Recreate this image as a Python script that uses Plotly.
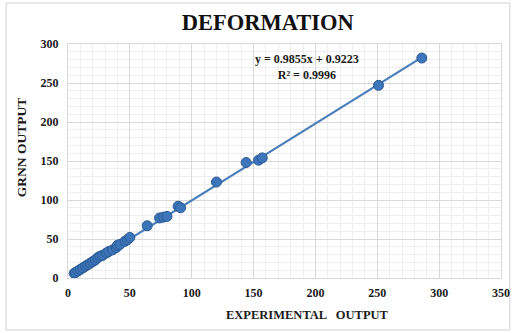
import plotly.graph_objects as go

exp_output = [5, 6, 8, 10, 12, 14, 16, 18, 20, 22, 24, 26, 28, 31, 33, 36, 39, 40, 42, 46, 48, 50,
              64, 74, 77, 80, 89, 91, 120, 144, 154, 157, 251, 286]
grnn_output = [6, 7, 9, 11, 13, 15, 17, 19, 21, 23, 26, 28, 29, 32, 34, 36, 39, 42, 43, 47, 49, 52,
               67, 77, 78, 79, 92, 90, 123, 148, 151, 154, 247, 282]
slope = 0.9855
intercept = 0.9223
eq_text = "<b>y = 0.9855x + 0.9223<br>R² = 0.9996</b>"

fx = [min(exp_output), max(exp_output)]
fy = [slope * v + intercept for v in fx]

serif = "Liberation Serif"
fig = go.Figure()
fig.add_trace(go.Scatter(x=fx, y=fy, mode="lines",
                         line=dict(color="#4a7ebb", width=2.2), hoverinfo="skip"))
fig.add_trace(go.Scatter(x=exp_output, y=grnn_output, mode="markers",
                         marker=dict(size=10, color="#3d75bb",
                                     line=dict(color="#2b5a92", width=1))))

fig.update_layout(
    width=522, height=333,
    margin=dict(l=68, r=14, t=44, b=55),
    paper_bgcolor="white", plot_bgcolor="white",
    showlegend=False,
    font=dict(family=serif, color="#1a1a1a"),
    title=dict(text="<b>DEFORMATION</b>", x=0.513, xanchor="center", y=0.935, yanchor="middle",
               font=dict(family=serif, size=22.5, color="#111111")),
    xaxis=dict(range=[0, 350], dtick=50, tick0=0, showgrid=True, gridcolor="#d9d9d9", gridwidth=1,
               minor=dict(dtick=10, showgrid=True, gridcolor="#eeeeee", gridwidth=1),
               zeroline=False, showline=True, linecolor="#d9d9d9", mirror=True,
               ticks="", tickfont=dict(family=serif, size=12, color="#1a1a1a"),
               ticklabelstandoff=4),
    yaxis=dict(range=[0, 300], dtick=50, tick0=0, showgrid=True, gridcolor="#d9d9d9", gridwidth=1,
               minor=dict(dtick=10, showgrid=True, gridcolor="#eeeeee", gridwidth=1),
               zeroline=False, showline=True, linecolor="#d9d9d9", mirror=True,
               ticks="", tickfont=dict(family=serif, size=12, color="#1a1a1a"),
               ticklabelstandoff=6),
    shapes=[dict(type="rect", xref="paper", yref="paper", x0=-0.143, x1=1.0205, y0=-0.222, y1=1.175,
                 line=dict(color="#d0d0d0", width=1), fillcolor="rgba(0,0,0,0)", layer="below")],
    annotations=[
        dict(text=eq_text, x=193, y=270, xref="x", yref="y", showarrow=False,
             font=dict(family=serif, size=12, color="#1a1a1a"), align="center"),
        dict(text="<b>EXPERIMENTAL   OUTPUT</b>", x=(311 - 68) / 440, y=-0.16, xref="paper", yref="paper",
             showarrow=False, font=dict(family=serif, size=12.5, color="#1a1a1a"), yanchor="middle"),
        dict(text="<b>GRNN OUTPUT</b>", x=-0.108, y=(278 - 148) / 234, xref="paper", yref="paper",
             showarrow=False, textangle=-90, font=dict(family=serif, size=13.5, color="#1a1a1a"),
             xanchor="center", yanchor="middle"),
    ],
)
fig.update_xaxes(tickprefix="<b>", ticksuffix="</b>")
fig.update_yaxes(tickprefix="<b>", ticksuffix="</b>")
fig.write_html("out.html", config={"displayModeBar": False},
               post_script="document.body.style.margin='0';")
